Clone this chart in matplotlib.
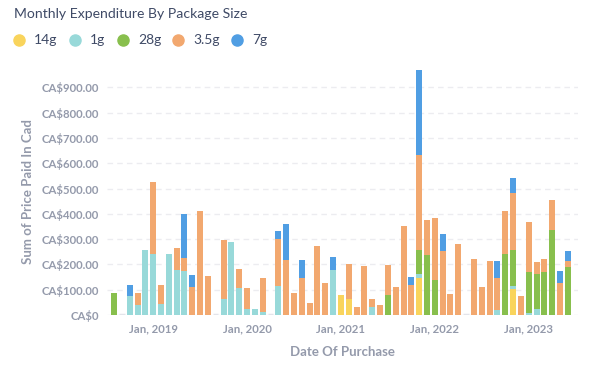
import matplotlib
matplotlib.use('Agg')
import matplotlib.pyplot as plt
from matplotlib.lines import Line2D
import numpy as np
import pandas as pd

# Metabase-ish palette
C_14 = '#F9D45C'
C_1 = '#98D9D9'
C_28 = '#88BF4D'
C_35 = '#F2A86F'
C_7 = '#509EE3'
INK = '#4C5773'
SUB = '#949AAB'
GRID = '#ECECF0'

plt.rcParams['font.family'] = ['Lato', 'DejaVu Sans']

# ===== Data (monthly, Aug 2018 .. Jun 2023) =====
months = pd.period_range('2018-08', '2023-06', freq='M')
n = len(months)

g14 = {29: 79, 30: 63, 39: 146, 51: 103}
g1 = {2: 75, 3: 40, 4: 257, 5: 243, 6: 45, 7: 241, 8: 178, 9: 174, 14: 63,
      15: 289, 16: 107, 17: 24, 18: 24, 19: 12, 21: 115, 28: 178, 33: 32,
      39: 16, 49: 20, 51: 12, 53: 8, 54: 24}
g28 = {0: 87, 35: 79, 39: 95, 40: 237, 41: 139, 50: 241, 51: 142, 53: 162,
       54: 138, 55: 170, 56: 336, 58: 190}
g35 = {3: 47, 5: 283, 6: 74, 8: 87, 9: 52, 10: 111, 11: 412, 12: 154,
       14: 234, 16: 75, 17: 83, 19: 134, 21: 186, 22: 218, 23: 87, 24: 146,
       25: 47, 26: 273, 27: 127, 30: 139, 31: 32, 32: 194, 33: 31, 34: 40,
       35: 119, 36: 111, 37: 352, 38: 119, 39: 376, 40: 139, 41: 245,
       42: 253, 43: 83, 44: 281, 46: 222, 47: 111, 48: 214, 49: 126,
       50: 171, 51: 226, 52: 75, 53: 198, 54: 48, 55: 52, 56: 119, 57: 127,
       58: 24}
g7 = {2: 44, 9: 174, 10: 47, 21: 31, 22: 142, 24: 72, 28: 52, 38: 31,
      39: 337, 42: 68, 49: 68, 51: 59, 57: 47, 58: 39}

series = [('14g', g14, C_14), ('1g', g1, C_1), ('28g', g28, C_28),
          ('3.5g', g35, C_35), ('7g', g7, C_7)]

tick_labels = ['Jan, 2019', 'Jan, 2020', 'Jan, 2021', 'Jan, 2022', 'Jan, 2023']

# ===== Figure =====
fig = plt.figure(figsize=(6.02, 3.70), dpi=100, facecolor='white')
ax = fig.add_axes([107 / 602, 1 - 315 / 370, 471 / 602, 253 / 370])

x = np.arange(n)
bottom = np.zeros(n)
for name, vals, col in series:
    v = np.array([vals.get(i, 0) for i in range(n)], dtype=float)
    ax.bar(x, v, bottom=bottom, width=0.77, color=col, linewidth=0, zorder=3)
    bottom += v

# baseline stub shows only where a month is empty
for i in np.where(bottom == 0)[0]:
    ax.hlines(0, i - 0.35, i + 0.35, color='#E3E4EA', lw=2.5, zorder=2)

ax.set_xlim(-0.9, 59.3)
ax.set_ylim(0, 1000)
yt = np.arange(0, 1000, 100)
ax.set_yticks(yt)
ax.set_yticklabels(['CA$0'] + [f'CA${v:,.2f}' for v in yt[1:]])
jan_idx = [i for i, p in enumerate(months) if p.month == 1]
ax.set_xticks(jan_idx)
ax.set_xticklabels(tick_labels)
ax.tick_params(length=0, labelsize=8.2, labelcolor=SUB, pad=5.5)
for lab in ax.get_xticklabels() + ax.get_yticklabels():
    lab.set_fontweight('bold')
ax.tick_params(axis='x', pad=6)

ax.grid(axis='y', color=GRID, lw=1, linestyle=(0, (4, 3)), zorder=0)
for s in ax.spines.values():
    s.set_visible(False)

# ===== Labels =====
fig.text(342 / 602, 1 - 352 / 370, 'Date Of Purchase', ha='center', va='center',
         fontsize=9.5, fontweight='bold', color=SUB)
fig.text(28 / 602, 1 - 192 / 370, 'Sum of Price Paid In Cad', ha='center',
         va='center', rotation=90, fontsize=9.5, fontweight='bold', color=SUB)

fig.text(14 / 602, 1 - 14 / 370, 'Monthly Expenditure By Package Size',
         ha='left', va='center', fontsize=10.1, color='#3F4A66')

# legend row
leg_x = [19, 75, 123, 178, 237]
for (name, _, col), lx in zip(series, leg_x):
    fig.add_artist(Line2D([lx / 602], [1 - 40 / 370], marker='o', markersize=8,
                          color=col, linestyle='none', transform=fig.transFigure))
    fig.text((lx + 15) / 602, 1 - 40 / 370, name, ha='left', va='center',
             fontsize=10, color='#3F4A66')

plt.savefig('out.png', dpi=100, facecolor='white')
